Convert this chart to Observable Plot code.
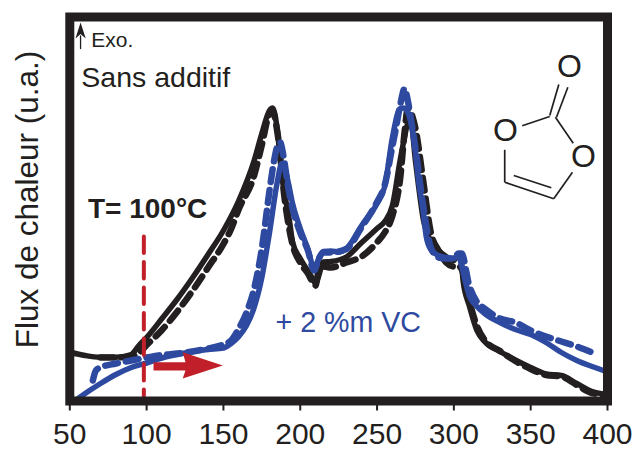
<!DOCTYPE html>
<html><head><meta charset="utf-8">
<script src="https://cdn.jsdelivr.net/npm/d3@7"></script>
<script src="https://cdn.jsdelivr.net/npm/@observablehq/plot@0.6"></script>
<style>html,body{margin:0;padding:0;background:#fff}svg{display:block;overflow:visible}</style>
</head><body><div id="chart"></div>
<script>
const inkColor = "#231f20", blueColor = "#2e4aa0", redColor = "#c1202a";
const tickValues = [50,100,150,200,250,300,350,400];

const blackSolidT = [50,60,70,80,90,95,100,110,120,130,140,150,160,170,175,180,182,185,188,190,193,195,200,205,208,210,212,215,220,230,240,250,255,260,265,268,270,272,275,277,280,285,290,295,300,302,305,306,310,315,320,330,340,350,360,370,380,390,400];
const blackSolidF = [48.8,45.5,43.8,43.8,46.5,55.5,63.5,82.5,102,123.5,146.5,170.5,200.5,240.5,267.5,290.5,293,272,225,205.5,180,159,142.5,130,122.5,117.5,125,139,139.5,144,158.5,172.5,179.5,195.5,240.5,264.5,277.5,278,240,215,182.5,160,150.5,144.5,140.5,145.5,137.5,120,95.5,70.5,59.5,49.5,41,33.5,27,25.5,17.5,9.5,6.5];

const blackDashT = [70,80,90,95,100,110,120,130,140,150,155,160,170,175,180,182,185,190,195,200,205,210,212,215,220,230,240,250,255,260,265,268,270,275,280,285,290,295,300,303,305,310,315,320,330,340,350,360,370,380,390,400];
const blackDashF = [43.5,43.5,44.5,48,56,71,89.5,110.5,133.5,157,172,192,225.5,256,287.5,290,270,200.5,156.5,138.5,127.5,115.5,130,134.5,133.5,138.5,144.5,158.8,168.5,185.5,222,270,292.5,272.5,220.5,168.5,150.5,138.5,134.5,135,132,100,75,61,50,40,32,26,24.5,16,8,6];

const blueSolidT = [55,60,70,80,90,100,110,120,130,140,150,155,160,165,170,175,180,185,188,190,192,195,200,205,208,209,212,215,220,225,230,240,250,255,260,265,267,270,272,275,277,280,282,285,290,295,300,303,305,307,310,315,320,330,340,350,360,370,380,390,400];
const blueSolidF = [2,7.5,17.5,26.5,33.5,38,43,46.5,49.5,51.5,53,57.5,64.5,75.5,93.5,123.5,168.5,218.5,237.5,232,220,197.5,172.5,151.5,135.5,132,142.5,149.5,150,149,152.5,175.5,197.5,214.5,263.5,292.5,293,288.5,278.5,250.5,220.5,190.5,164.5,151.5,145.5,143.5,142.5,145.5,135.5,122.5,105.5,94.5,87.5,78.5,71.5,66.5,58.5,48.5,40.5,34.5,29];

const blueDashT = [65,67,70,80,90,100,110,120,130,140,150,155,160,165,170,175,180,183,185,187,189,192,195,200,205,209,212,215,220,230,240,250,255,260,262,265,268,270,272,275,280,285,290,295,300,303,305,310,315,320,330,340,350,360,370,380,390];
const blueDashF = [20.5,30.5,33.5,37.5,40.5,43.5,46,47.5,49.5,52.5,56.5,60.5,72.5,88.5,112.5,152.5,210.5,240.5,254.5,258.5,245.5,215.5,192.5,168.5,150.5,130.5,142,148.5,148.5,152,174,199,216,255,270.5,295.5,312.5,300.5,282.5,252.5,195.5,153.5,143.5,142.5,142.5,147.5,147.5,115.5,99,92.5,82.5,78.5,70.5,64.5,59.5,54.5,48.5];

const toLine = (t, f) => t.map((v, i) => ({t: v, f: f[i]}));

const markerT = [98.2, 98.2], markerF = [164.5, 5];
const arrowShapeT = [104.5,125.3,123.5,149.6,123.5,125.3,104.5];
const arrowShapeF = [38.8,38.8,48.8,35.5,22.5,30.5,30.5];

const exoStemT = [57,57], exoStemF = [352.5,365];
const exoHeadT = [57,60.4,57,53.7];
const exoHeadF = [378.5,362.5,367,362.5];

const bondX1 = [362.4,366.8,362.4,366.1,333.1,333.1,339,365];
const bondY1 = [285.5,283.8,284.5,283.8,251.2,218.8,225.5,202.2];
const bondX2 = [368.3,374.2,344.5,377.7,333.1,365,363.4,377.2];
const bondY2 = [316.5,313.8,275.2,257.8,218.8,202.2,213.2,228.8];
const bonds = bondX1.map((x, i) => ({x1: x, y1: bondY1[i], x2: bondX2[i], y2: bondY2[i]}));
const atomX = [375.3,333.6,384.4], atomY = [333.8,269.8,243.8];
const atoms = atomX.map((x, i) => ({x, y: atomY[i]}));

const labels = [
  {t: 64, f: 354, s: "Exo.", size: 21, color: inkColor},
  {t: 57.5, f: 314.5, s: "Sans additif", size: 28.5, color: inkColor},
  {t: 183.9, f: 69.5, s: "+ 2 %m VC", size: 28.6, color: blueColor}
];
const boldLabels = [{t: 61.8, f: 183.5, s: "T= 100°C"}];

const font = "'Liberation Sans', Arial, sans-serif";
const dash = {strokeWidth: 6.5, strokeDasharray: "13,8", strokeLinejoin: "round", curve: "monotone-x"};
const solid = {strokeWidth: 5.5, strokeLinejoin: "round", strokeLinecap: "round", curve: "monotone-x"};

const plot = Plot.plot({
  width: 636, height: 451,
  marginLeft: 69.3, marginRight: 29, marginTop: 16.5, marginBottom: 50.5,
  style: {fontFamily: font, background: "#fff", overflow: "visible"},
  x: {domain: [50, 400], axis: null},
  y: {domain: [0, 384], axis: null},
  marks: [
    Plot.line(toLine(blackSolidT, blackSolidF), {x: "t", y: "f", stroke: inkColor, ...solid}),
    Plot.line(toLine(blackDashT, blackDashF), {x: "t", y: "f", stroke: inkColor, ...dash}),
    Plot.line(toLine(blueDashT, blueDashF), {x: "t", y: "f", stroke: blueColor, ...dash}),
    Plot.line(toLine(blueSolidT, blueSolidF), {x: "t", y: "f", stroke: blueColor, ...solid}),
    Plot.line(toLine(markerT, markerF), {x: "t", y: "f", stroke: redColor, strokeWidth: 4, strokeDasharray: "16.5,9"}),
    Plot.line(toLine(arrowShapeT, arrowShapeF), {x: "t", y: "f", fill: redColor, stroke: "none"}),
    Plot.line(toLine(exoStemT, exoStemF), {x: "t", y: "f", stroke: inkColor, strokeWidth: 1.3}),
    Plot.line(toLine(exoHeadT, exoHeadF), {x: "t", y: "f", fill: inkColor, stroke: "none"}),
    Plot.link(bonds, {x1: "x1", y1: "y1", x2: "x2", y2: "y2", stroke: inkColor, strokeWidth: 1.7}),
    Plot.text(atoms, {x: "x", y: "y", text: () => "O", fontSize: 32, fill: inkColor, lineAnchor: "middle"}),
    Plot.text(labels, {x: "t", y: "f", text: "s", fontSize: "size", fill: "color", textAnchor: "start", lineAnchor: "bottom"}),
    Plot.text(boldLabels, {x: "t", y: "f", text: "s", fontSize: 28, fontWeight: 700, fill: inkColor, textAnchor: "start", lineAnchor: "bottom"}),
    Plot.axisX({ticks: tickValues, tickFormat: d => String(d), tickSize: 10, tickPadding: 12, fontSize: 30, stroke: inkColor, strokeWidth: 2, fill: inkColor, label: null}),
    Plot.frame({stroke: inkColor, strokeWidth: 9, fill: "none"}),
    Plot.text(["Flux de chaleur (u.a.)"], {frameAnchor: "left", dx: -41.5, dy: -9.5, rotate: -90, fontSize: 31.5, fill: inkColor, textAnchor: "middle", lineAnchor: "middle"})
  ]
});
document.getElementById("chart").appendChild(plot);
</script></body></html>
